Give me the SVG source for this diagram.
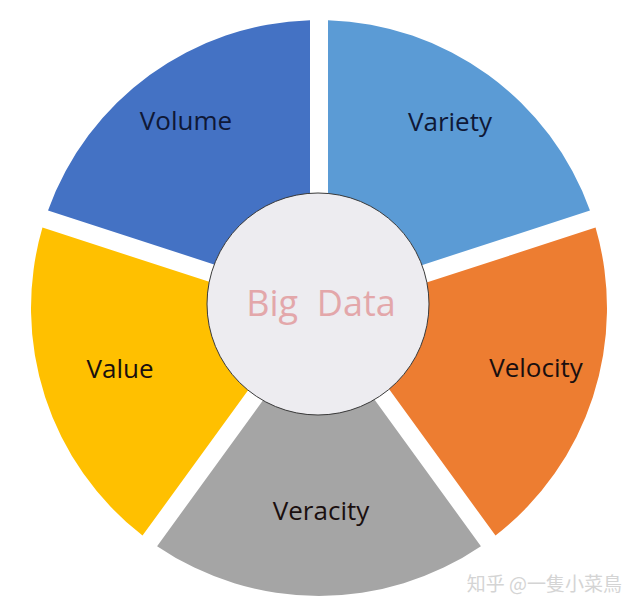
<svg xmlns="http://www.w3.org/2000/svg" width="640" height="614" viewBox="0 0 640 614">
<style>
.lbl{font-family:"Open Sans","Liberation Sans",sans-serif;font-size:26px;text-anchor:middle}
.dark{fill:#0f1836}
.blk{fill:#1a0f0f}
</style>
<rect width="640" height="614" fill="#ffffff"/>
<g id="volume">
<path d="M48.01,210.49 A288,288 0 0 1 310,20.14 L310,208.4 A100,100 0 0 0 227.05,268.66 Z" fill="#4472C4"/>
<text class="lbl dark" x="186" y="130">Volume</text>
</g>
<g id="variety">
<path d="M328,20.14 A288,288 0 0 1 589.99,210.49 L410.95,268.66 A100,100 0 0 0 328,208.4 Z" fill="#5B9BD5"/>
<text class="lbl dark" x="450" y="131">Variety</text>
</g>
<g id="velocity">
<path d="M595.55,227.61 A288,288 0 0 1 495.48,535.59 L384.82,383.29 A100,100 0 0 0 416.51,285.78 Z" fill="#ED7D31"/>
<text class="lbl blk" x="536" y="377">Velocity</text>
</g>
<g id="veracity">
<path d="M480.92,546.17 A288,288 0 0 1 157.08,546.17 L267.74,393.87 A100,100 0 0 0 370.26,393.87 Z" fill="#A5A5A5"/>
<text class="lbl blk" x="321" y="520">Veracity</text>
</g>
<g id="value">
<path d="M142.52,535.59 A288,288 0 0 1 42.45,227.61 L221.49,285.78 A100,100 0 0 0 253.18,383.29 Z" fill="#FFC000"/>
<text class="lbl blk" x="120" y="378">Value</text>
</g>
<g id="bigdata">
<circle cx="318" cy="304" r="111" fill="#EDECF0" stroke="#3a3a3a" stroke-width="1"/>
<text x="321" y="316" font-family="'Open Sans','Liberation Sans',sans-serif" font-size="36" fill="#E3A7AA" text-anchor="middle" xml:space="preserve">Big  Data</text>
</g>
<text x="622" y="591" font-family="'Noto Sans CJK SC','Noto Sans',sans-serif" font-size="19" fill="#d4d4d4" text-anchor="end">知乎 @一隻小菜鳥</text>
</svg>
